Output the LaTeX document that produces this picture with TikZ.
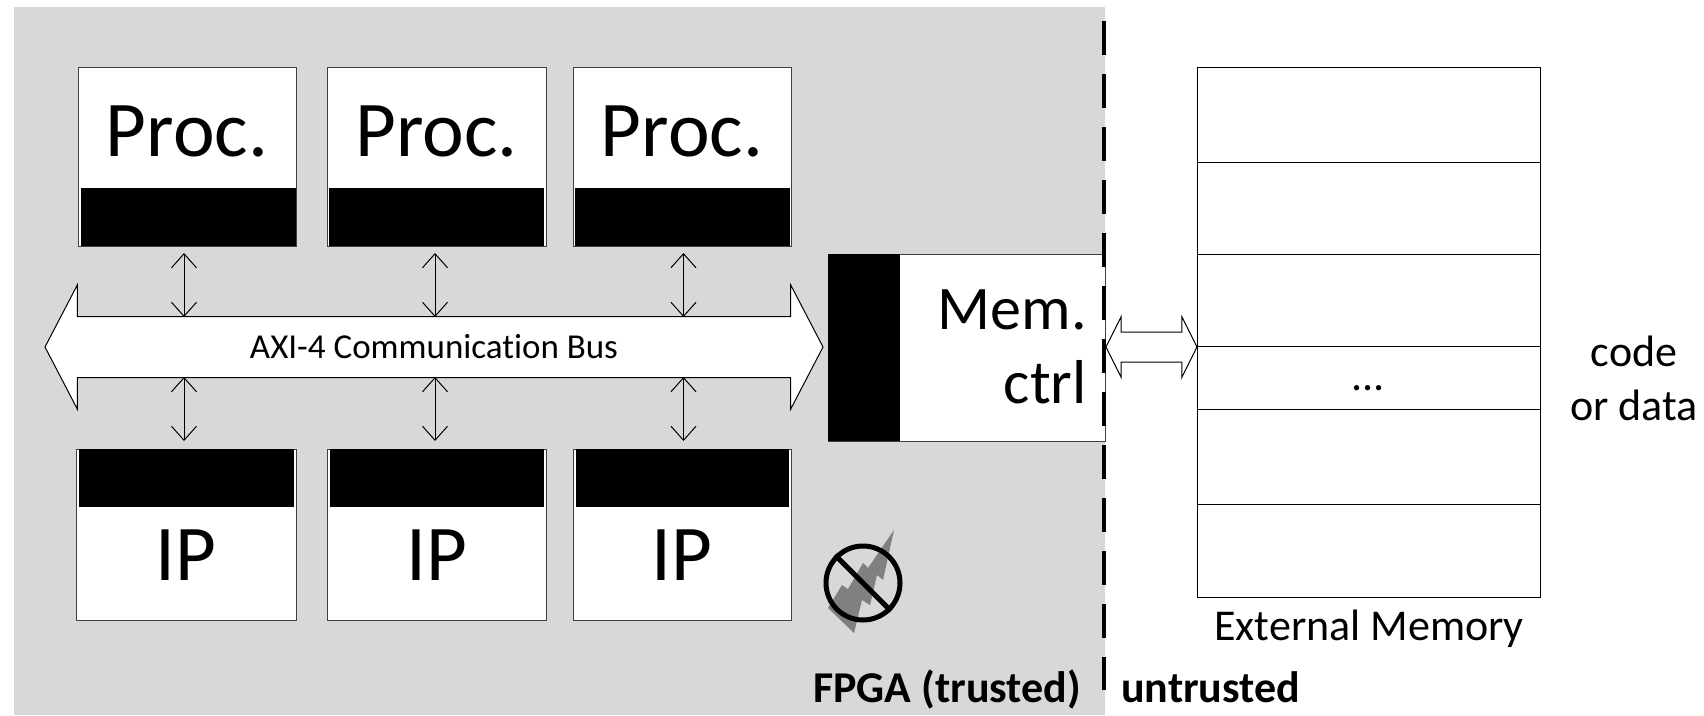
\documentclass[tikz,border=0pt]{standalone}
\usepackage{fontspec}
\setmainfont[Ligatures=NoCommon]{Carlito}
\usetikzlibrary{arrows.meta}
\usetikzlibrary{positioning}
\usetikzlibrary{shapes.arrows}
\definecolor{bg1}{RGB}{216,216,216}
\definecolor{l1}{RGB}{64,64,64}
\definecolor{zap}{RGB}{128,128,128}

\begin{document}
\begin{tikzpicture} [
    x=1pt, y=-1pt,
    box/.style={
        draw=l1, fill=white, line width=1pt,
        inner sep=0pt, outer sep=0pt
    },
    band/.style={fill=black, inner sep=0pt, outer sep=0pt},
    big/.style={font=\fontsize{79}{79}\selectfont, inner sep=0pt},
    iptxt/.style={font=\fontsize{79}{79}\selectfont, inner sep=0pt},
    memtxt/.style={font=\fontsize{62}{74}\selectfont, inner sep=0pt, align=right},
    midtxt/.style={font=\fontsize{44}{54}\selectfont, inner sep=0pt, align=center},
    bustxt/.style={font=\fontsize{35}{36}\selectfont, inner sep=0pt},
    zone/.style={font=\fontsize{44}{44}\selectfont\bfseries, inner sep=0pt},
    f/.style={
        line width=1pt,
        {Straight Barb[length=14pt,width=25pt]}-{Straight Barb[length=14pt,width=25pt]}
    },
    cell/.style={
        draw=black, fill=white, line width=1pt,
        minimum width=343, inner sep=0pt, outer sep=0pt
    },
    wide/.style={
        double arrow, draw=black, fill=white, line width=1pt,
        inner sep=0pt, outer sep=0pt,
        text height=#1, text depth=#1
    }
]

\useasboundingbox (0,0) rectangle (1704,715);
\fill [bg1] (14,7) rectangle (1105,715);

% processors and IP blocks
\foreach \n/\x/\w/\d in {1/78/218/1.5, 2/327/219/0, 3/573/218/0} {
    \node [box, anchor=north west, minimum width=\w, minimum height=179]
        (proc\n) at (\x,67) {};
    \node [band, anchor=south, minimum width=215, minimum height=58]
        (procbar\n) at ([xshift=\d pt]proc\n.south) {};
    \node [big] (proctxt\n) at ([yshift=25pt]proc\n.center) {Proc.};
}
\foreach \n/\x/\w in {1/76/220, 2/327/219, 3/573/218} {
    \node [box, anchor=north west, minimum width=\w, minimum height=171]
        (ip\n) at (\x,449) {};
    \node [band, anchor=north, minimum width=\w-5, minimum height=58]
        (ipbar\n) at (ip\n.north) {};
    \node [iptxt] (iptxt\n) at ([yshift=-21pt]ip\n.center) {IP};
}

% bus
\node [wide=30pt, minimum height=778, double arrow head extend=31.5pt,
    double arrow tip angle=125] (bus) at (434,347) {};
\node [bustxt] (bustxt) at (434,347) {AXI-4 Communication Bus};
\coordinate (bustop) at ([yshift=30pt]bus.center);
\coordinate (busbot) at ([yshift=-30pt]bus.center);

\foreach \n/\d in {1/-3, 2/-1.5, 3/1.5} {
    \draw [f] ([xshift=\d pt,yshift=-7pt]proc\n.south)
        -- ([xshift=\d pt]proc\n.south |- bustop);
    \draw [f] ([xshift=\d pt]proc\n.south |- busbot)
        -- ([xshift=\d pt,yshift=8pt]proc\n.south |- ip\n.north);
}

% memory controller
\node [box, anchor=north west, minimum width=277, minimum height=187]
    (ctrl) at (828,254) {};
\node [band, anchor=west, minimum width=72, minimum height=187]
    (ctrlbar) at (ctrl.west) {};
\node [memtxt, anchor=east] (ctrltxt) at (1087,347) {Mem.\\ctrl};

% external memory
\node [cell, anchor=north west, minimum height=95] (m1) at (1197,67) {};
\node [cell, below=0pt of m1, minimum height=92] (m2) {};
\node [cell, below=0pt of m2, minimum height=92] (m3) {};
\node [cell, below=0pt of m3, minimum height=63] (m4) {};
\node [cell, below=0pt of m4, minimum height=95] (m5) {};
\node [cell, below=0pt of m5, minimum height=93] (m6) {};
\node [midtxt, anchor=base] (dots) at (1368,390) {...};
\node [midtxt, anchor=base] (memtxt) at (1369,640) {External Memory};
\node [midtxt] (kind) at (1634,378) {code\\or data};

\node [wide=14.5pt, minimum height=91, double arrow head extend=15.5pt,
    double arrow tip angle=127] (link) at (1151.5,347) {};

% trust boundary
\coordinate (edgetop) at (1104,21);
\coordinate (edgebot) at (1104,690);
\draw [line width=4pt, dash pattern=on 34pt off 19pt] (edgetop) -- (edgebot);

\node [zone, anchor=base west] (fpga) at (813,702) {FPGA (trusted)};
\node [zone, anchor=base west] (open) at (1121,702) {untrusted};

% no side channel sign
\fill [zap] (894,530) -- (883,580) -- (877,575) -- (870,605) -- (862,600)
    -- (854,633) -- (828,608) -- (842,585) -- (848,589) -- (863,563)
    -- (868,568) -- cycle;
\node [circle, draw=black, line width=5pt, minimum size=74, inner sep=0pt]
    (nosign) at (863,583) {};
\draw [line width=5pt] (nosign.135) -- (nosign.-45);

\end{tikzpicture}
\end{document}
